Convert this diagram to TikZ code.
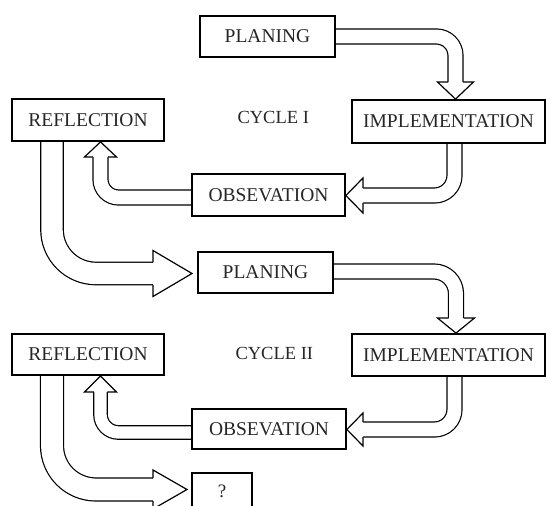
\documentclass[tikz,border=0pt]{standalone}
\usepackage{fontspec}
\setmainfont{Liberation Serif}
\usetikzlibrary{calc,backgrounds}
\tikzset{
  box/.style={draw=black, line width=1.8pt, rectangle, inner sep=0pt,
    font=\fontsize{19.5}{21}\selectfont, text=black!85},
  lbl/.style={font=\fontsize{18.5}{20}\selectfont, text=black!85, anchor=west},
  shaftline/.style={draw=black, line width=1.2pt, double=white, line cap=butt, line join=round},
  headline/.style={draw=black, fill=white, line width=1.2pt, line join=miter},
}
% #1 shaft width, #2 radius, #3 start, #4 corner, #5 head base, #6 tip, #7 head half width
\newcommand{\blockarrow}[7]{%
  \pgfmathsetmacro\myinnerdd{#1-1.2}%
  \draw[shaftline, double distance=\myinnerdd pt, rounded corners=#2pt] #3 -- #4 -- #5;
  \filldraw[headline] ($#5!#1pt/2!90:#6$) -- ($#5!#7pt!90:#6$) -- #6 -- ($#5!#7pt!-90:#6$) -- ($#5!#1pt/2!-90:#6$);
}
\begin{document}
\begin{tikzpicture}[x=1pt,y=-1pt]
\useasboundingbox (0,0) rectangle (547,506);

\node[box, minimum width=135pt, minimum height=41pt] (plan1) at (267.5,36.5) {PLANING};
\node[box, minimum width=193pt, minimum height=43pt] (impl1) at (448.5,121.5) {IMPLEMENTATION};
\node[box, minimum width=152pt, minimum height=42pt] (ref1) at (88,120) {REFLECTION};
\node[box, minimum width=153pt, minimum height=42pt] (obs1) at (268.5,195) {OBSEVATION};
\node[box, minimum width=135pt, minimum height=41pt] (plan2) at (265.5,272.5) {PLANING};
\node[box, minimum width=193pt, minimum height=42pt] (impl2) at (448.5,355) {IMPLEMENTATION};
\node[box, minimum width=152pt, minimum height=41pt] (ref2) at (88,354.5) {REFLECTION};
\node[box, minimum width=154pt, minimum height=40pt] (obs2) at (269,429) {OBSEVATION};
\node[box, minimum width=60pt, minimum height=42pt] (q) at (222,494) {};
\node[font=\fontsize{19}{20}\selectfont, text=black!85] (qt) at (222,491) {?};

\node[lbl] (c1) at (234,117) {CYCLE I};
\node[lbl] (c2) at (232,353) {CYCLE II};

\begin{scope}[on background layer]
\blockarrow{15}{19}{(plan1.east)}{(455.5,36.5)}{(455.5,82)}{(impl1.north -| 455.5,0)}{18}
\blockarrow{15}{20}{(impl1.south -| 454.5,0)}{(454.5,195.5)}{(363,195.5)}{(obs1.east |- 0,195.5)}{17.5}
\blockarrow{15}{18}{(obs1.west |- 0,197.5)}{(100.5,197.5)}{(100.5,157)}{(ref1.south -| 100.5,0)}{16}
\blockarrow{22.5}{44}{(ref1.south -| 52,0)}{(52,273.5)}{(153,273.5)}{(192,273.5)}{23}
\blockarrow{15}{22}{(plan2.east |- 0,271.5)}{(456,271.5)}{(456,318)}{(impl2.north -| 456,0)}{18.5}
\blockarrow{23}{44}{(ref2.south -| 52,0)}{(52,489.5)}{(153,489.5)}{(187,489.5)}{19.5}
\blockarrow{15}{20}{(impl2.south -| 454.5,0)}{(454.5,429.5)}{(363,429.5)}{(obs2.east |- 0,429.5)}{16.5}
\blockarrow{13.5}{18}{(obs2.west |- 0,432.5)}{(100.5,432.5)}{(100.5,392)}{(ref2.south -| 100.5,0)}{16}
\end{scope}
\end{tikzpicture}
\end{document}
